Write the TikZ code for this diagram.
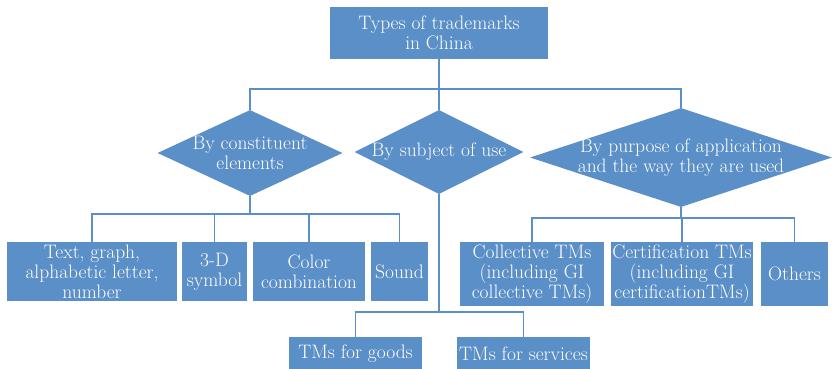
\documentclass[tikz,border=0pt]{standalone}
\usepackage{tikz}
\usetikzlibrary{shapes.geometric}
\definecolor{tmblue}{RGB}{91,143,199}

\begin{document}
\begin{tikzpicture}[x=1pt,y=-1pt,
        tmbox/.style={draw=none,fill=tmblue,text=white,align=center,inner sep=0pt,
            font=\fontsize{19.5}{20}\selectfont},
        tmdia/.style={diamond,fill=tmblue,inner sep=0pt},
        tmtxt/.style={text=white,align=center,font=\fontsize{19.5}{20}\selectfont},
        tmline/.style={draw=tmblue,line width=1.4pt}]
    \useasboundingbox (0,0) rectangle (832,368);

    % root
    \node[tmbox,minimum width=218,minimum height=52] (root) at (439,33) {Types of trademarks\\in China};

    % the three ways of sorting
    \node[tmdia,minimum width=185,minimum height=86] (cons) at (250,153) {};
    \node[tmtxt] (consT) at (cons) {By constituent\\elements};
    \node[tmdia,minimum width=169,minimum height=84] (subj) at (439,152) {};
    \node[tmtxt] (subjT) at (subj) {By subject of use};
    \node[tmdia,minimum width=302,minimum height=99] (purp) at (681,157.5) {};
    \node[tmtxt] (purpT) at (purp) {By purpose of application\\and the way they are used};

    % by constituent elements
    \node[tmbox,minimum width=170,minimum height=59] (text) at (92,271.5) {Text, graph,\\alphabetic letter,\\number};
    \node[tmbox,minimum width=65,minimum height=59] (threed) at (214.5,271.5) {3-D\\symbol};
    \node[tmbox,minimum width=112,minimum height=59] (color) at (309,271.5) {Color\\combination};
    \node[tmbox,minimum width=57,minimum height=59] (sound) at (399.5,271.5) {Sound};

    % by subject of use
    \node[tmbox,minimum width=133,minimum height=33] (goods) at (355.5,353.5) {TMs for goods};
    \node[tmbox,minimum width=133,minimum height=33] (serv) at (523.5,353.5) {TMs for services};

    % by purpose of application
    \node[tmbox,minimum width=144,minimum height=64] (coll) at (532,274) {Collective TMs\\(including GI\\collective TMs)};
    \node[tmbox,minimum width=142,minimum height=64] (cert) at (682,274) {Certification TMs\\(including GI\\certificationTMs)};
    \node[tmbox,minimum width=67,minimum height=64] (others) at (794.5,274) {Others};

    \coordinate (busA) at (439,89);
    \coordinate (busB) at (250,214);
    \coordinate (busC) at (439,312);
    \coordinate (busD) at (681,218);

    \draw[tmline] (root.south) -- (busA);
    \draw[tmline] (cons.north) |- (busA) -| (purp.north);
    \draw[tmline] (subj.north) -- (busA);

    \draw[tmline] (cons.south) -- (busB);
    \draw[tmline] (text.north) |- (busB) -| (sound.north);
    \draw[tmline] (threed.north) -- (threed.north |- busB);
    \draw[tmline] (color.north) -- (color.north |- busB);

    \draw[tmline] (subj.south) -- (busC);
    \draw[tmline] (goods.north) |- (busC) -| (serv.north);

    \draw[tmline] (purp.south) -- (busD);
    \draw[tmline] (coll.north) |- (busD) -| (others.north);
    \draw[tmline] (cert.north) -- (cert.north |- busD);
\end{tikzpicture}
\end{document}
